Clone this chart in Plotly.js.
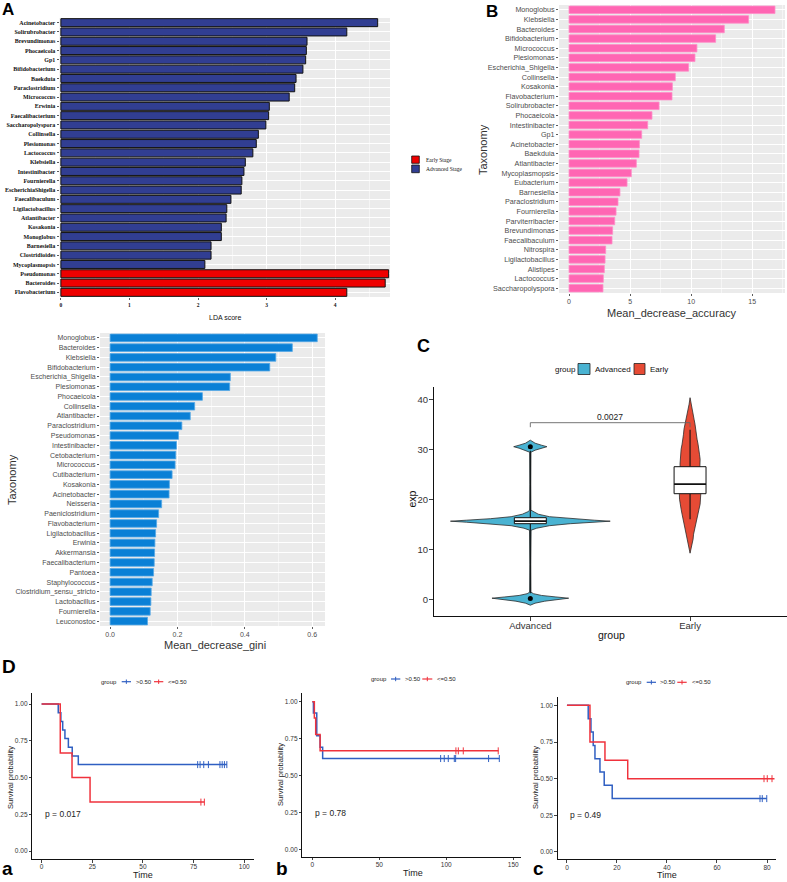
<!DOCTYPE html>
<html>
<head>
<meta charset="utf-8">
<script src="https://cdn.plot.ly/plotly-3.0.1.min.js"></script>
<style>
  html, body { margin: 0; padding: 0; background: #fff; }
  #chart { width: 787px; height: 882px; }
</style>
</head>
<body>
<div id="chart"></div>
<script>
// ---------- A: LEfSe LDA scores ----------
const ldaAdvancedTaxa = ['Acinetobacter','Solirubrobacter','Brevundimonas','Phocaeicola','Gp1','Bifidobacterium','Baekduia','Paraclostridium','Micrococcus','Erwinia','Faecalibacterium','Saccharopolyspora','Collinsella','Plesiomonas','Lactococcus','Klebsiella','Intestinibacter','Fournierella','EscherichiaShigella','Faecalibaculum','Ligilactobacillus','Atlantibacter','Kosakonia','Monoglobus','Barnesiella','Clostridioides','Mycoplasmopsis'];
const ldaAdvancedScores = [4.62,4.17,3.59,3.58,3.57,3.53,3.43,3.41,3.33,3.04,3.03,2.99,2.88,2.85,2.80,2.69,2.67,2.64,2.63,2.48,2.42,2.41,2.34,2.34,2.19,2.19,2.10];
const ldaEarlyTaxa = ['Pseudomonas','Bacteroides','Flavobacterium'];
const ldaEarlyScores = [4.78,4.73,4.17];
const ldaTicks = [0,1,2,3,4];

// ---------- B: random forest, mean decrease accuracy ----------
const accTaxa = ['Monoglobus','Klebsiella','Bacteroides','Bifidobacterium','Micrococcus','Plesiomonas','Escherichia_Shigella','Collinsella','Kosakonia','Flavobacterium','Solirubrobacter','Phocaeicola','Intestinibacter','Gp1','Acinetobacter','Baekduia','Atlantibacter','Mycoplasmopsis','Eubacterium','Barnesiella','Paraclostridium','Fournierella','Parviterribacter','Brevundimonas','Faecalibaculum','Nitrospira','Ligilactobacillus','Alistipes','Lactococcus','Saccharopolyspora'];
const accValues = [16.86,14.70,12.71,12.00,10.47,10.31,9.79,8.70,8.46,8.43,7.37,6.79,6.44,5.95,5.76,5.73,5.51,5.10,4.75,4.17,4.01,3.85,3.74,3.57,3.52,3.00,2.95,2.89,2.81,2.78];
const accTicks = [0,5,10,15];

// ---------- random forest, mean decrease gini ----------
const giniTaxa = ['Monoglobus','Bacteroides','Klebsiella','Bifidobacterium','Escherichia_Shigella','Plesiomonas','Phocaeicola','Collinsella','Atlantibacter','Paraclostridium','Pseudomonas','Intestinibacter','Cetobacterium','Micrococcus','Cutibacterium','Kosakonia','Acinetobacter','Neisseria','Paeniclostridium','Flavobacterium','Ligilactobacillus','Erwinia','Akkermansia','Faecalibacterium','Pantoea','Staphylococcus','Clostridium_sensu_stricto','Lactobacillus','Fournierella','Leuconostoc'];
const giniValues = [0.615,0.541,0.492,0.474,0.357,0.355,0.274,0.251,0.238,0.213,0.203,0.197,0.195,0.193,0.184,0.176,0.175,0.153,0.144,0.138,0.135,0.133,0.132,0.131,0.129,0.125,0.122,0.121,0.119,0.111];
const giniTicks = [0,0.2,0.4,0.6];
const giniTickText = ['0.0','0.2','0.4','0.6'];

// ---------- C: expression by group (violin outline + box summary) ----------
const groups = ['Advanced','Early'];
const advDensityY  = [-1.2,-0.8,-0.4,0.0,0.2,0.45,0.75,1.1,1.4,7.0,13.8,14.2,14.7,15.1,15.4,15.6,15.8,16.1,16.5,17.0,17.5,17.8,23.0,29.4,29.8,30.2,30.5,30.8,31.2,31.8];
const advDensityHW = [0,0.03,0.09,0.19,0.24,0.16,0.07,0.02,0.004,0.003,0.005,0.04,0.12,0.25,0.40,0.50,0.40,0.25,0.12,0.05,0.015,0.004,0.003,0.004,0.03,0.07,0.104,0.07,0.03,0];
const earlyDensityY  = [9.2,10,11,12,13,14,15,16,17,18,19,20,21,22,23,24,25,26,27,28,29,30,31,32,33,34,35,36,37,38,39,40.3];
const earlyDensityHW = [0,0.006,0.013,0.019,0.022,0.028,0.038,0.044,0.050,0.056,0.063,0.066,0.067,0.066,0.063,0.059,0.059,0.061,0.063,0.063,0.059,0.056,0.050,0.044,0.041,0.038,0.031,0.025,0.019,0.013,0.006,0];
const boxQ1 = [15.1, 21.1];
const boxMedian = [15.6, 23.0];
const boxQ3 = [16.3, 26.5];
const boxLower = [1.2, 16.0];
const boxUpper = [29.7, 33.9];
const boxHalfWidth = 0.1;
const outlierGroup = [0, 0];
const outlierY = [30.5, 0.15];
const pValueText = '0.0027';
const bracketY = 35.3;
const bracketDrop = 0.9;

// ---------- D: Kaplan-Meier curves ----------
// a
const kmA_hiT = [0,8.2,9.5,10.4,11.5,13.2,15.1,18.1,91.4];
const kmA_hiS = [1,0.941,0.882,0.824,0.765,0.706,0.647,0.588,0.588];
const kmA_hiCens = [77,78.2,80,82.3,88,89.1,90.2,91.4];
const kmA_loT = [0,9.2,15,23.9,80.3];
const kmA_loS = [1,0.667,0.5,0.333,0.333];
const kmA_loCens = [78.6,80.3];
// b
const kmB_hiT = [0,0.8,3.3,5.8,7.7,139.6];
const kmB_hiS = [1,0.923,0.769,0.692,0.615,0.615];
const kmB_hiCens = [95.8,98.5,101.5,106,107,131.6,139.6];
const kmB_loT = [0,1.5,2.5,5.8,139];
const kmB_loS = [1,0.889,0.778,0.667,0.667];
const kmB_loCens = [107.2,109,112.7,138.8];
// c
const kmC_hiT = [0,8.5,9.6,10.5,11.2,13.2,14.9,18.1,79.9];
const kmC_hiS = [1,0.909,0.818,0.727,0.636,0.545,0.455,0.364,0.364];
const kmC_hiCens = [77.2,78.1,79.9];
const kmC_loT = [0,9.2,15.2,24.3,83];
const kmC_loS = [1,0.75,0.625,0.5,0.5];
const kmC_loCens = [78.8,80.1,82];
const survTicks = [0,0.25,0.5,0.75,1];
const survTickText = ['0.00','0.25','0.50','0.75','1.00'];

// ---------- helpers ----------
const W = 787, H = 882;
const px = x => x / W;
const py = y => 1 - y / H;
const SANS = 'Liberation Sans, Arial, sans-serif';
const SERIF = 'Liberation Serif, Times New Roman, serif';

const BLUE_KM = '#2F5FC2';
const RED_KM = '#F0323C';
const ADV_FILL = '#4AB3D2';
const EARLY_FILL = '#E64B35';

function stepAt(ts, ss, t) {
  let v = ss[0];
  for (let i = 0; i < ts.length; i++) if (ts[i] <= t) v = ss[i];
  return v;
}
function violinOutline(center, ys, hws) {
  const x = [], y = [];
  for (let i = 0; i < ys.length; i++) { x.push(center + hws[i]); y.push(ys[i]); }
  for (let i = ys.length - 1; i >= 0; i--) { x.push(center - hws[i]); y.push(ys[i]); }
  return { x, y };
}

const traces = [];

// A bars
traces.push({
  type: 'bar', orientation: 'h', x: ldaAdvancedScores, y: ldaAdvancedTaxa,
  xaxis: 'x', yaxis: 'y', width: 0.86,
  marker: { color: '#313E92', line: { color: '#111', width: 1 } }, hoverinfo: 'skip'
});
traces.push({
  type: 'bar', orientation: 'h', x: ldaEarlyScores, y: ldaEarlyTaxa,
  xaxis: 'x', yaxis: 'y', width: 0.86,
  marker: { color: '#EE0000', line: { color: '#111', width: 1 } }, hoverinfo: 'skip'
});
// B bars
traces.push({
  type: 'bar', orientation: 'h', x: accValues, y: accTaxa, xaxis: 'x2', yaxis: 'y2', width: 0.78,
  marker: { color: '#FF66B3', line: { color: '#FF8DC8', width: 0.8 } }, hoverinfo: 'skip'
});
// gini bars
traces.push({
  type: 'bar', orientation: 'h', x: giniValues, y: giniTaxa, xaxis: 'x3', yaxis: 'y3', width: 0.78,
  marker: { color: '#0A80D6', line: { color: '#55A8E6', width: 0.8 } }, hoverinfo: 'skip'
});

// C violins
const advV = violinOutline(0, advDensityY, advDensityHW);
const earlyV = violinOutline(1, earlyDensityY, earlyDensityHW);
[[advV, ADV_FILL], [earlyV, EARLY_FILL]].forEach(([v, c]) => {
  traces.push({
    type: 'scatter', mode: 'lines', x: v.x, y: v.y, fill: 'toself', fillcolor: c,
    line: { color: '#2b2b2b', width: 0.8 }, xaxis: 'x4', yaxis: 'y4', hoverinfo: 'skip'
  });
});
// C boxplots: whiskers, boxes, medians
groups.forEach((g, i) => {
  traces.push({
    type: 'scatter', mode: 'lines', x: [i, i, null, i, i],
    y: [boxLower[i], boxQ1[i], null, boxQ3[i], boxUpper[i]],
    line: { color: '#111', width: 1.1 }, xaxis: 'x4', yaxis: 'y4', hoverinfo: 'skip'
  });
  traces.push({
    type: 'scatter', mode: 'lines',
    x: [i - boxHalfWidth, i + boxHalfWidth, i + boxHalfWidth, i - boxHalfWidth, i - boxHalfWidth],
    y: [boxQ1[i], boxQ1[i], boxQ3[i], boxQ3[i], boxQ1[i]],
    fill: 'toself', fillcolor: '#ffffff', line: { color: '#111', width: 1 },
    xaxis: 'x4', yaxis: 'y4', hoverinfo: 'skip'
  });
  traces.push({
    type: 'scatter', mode: 'lines', x: [i - boxHalfWidth, i + boxHalfWidth], y: [boxMedian[i], boxMedian[i]],
    line: { color: '#111', width: 1.8 }, xaxis: 'x4', yaxis: 'y4', hoverinfo: 'skip'
  });
});
traces.push({
  type: 'scatter', mode: 'markers', x: outlierGroup, y: outlierY,
  marker: { color: '#000', size: 5 }, xaxis: 'x4', yaxis: 'y4', hoverinfo: 'skip'
});
// significance bracket
traces.push({
  type: 'scatter', mode: 'lines', x: [0, 0, 1, 1],
  y: [bracketY - bracketDrop, bracketY, bracketY, bracketY - bracketDrop],
  line: { color: '#666', width: 0.9 }, xaxis: 'x4', yaxis: 'y4', hoverinfo: 'skip'
});

// D KM curves
function km(ts, ss, cens, color, xa, ya) {
  traces.push({
    type: 'scatter', mode: 'lines', x: ts, y: ss, line: { shape: 'hv', color: color, width: 1.5 },
    xaxis: xa, yaxis: ya, hoverinfo: 'skip'
  });
  traces.push({
    type: 'scatter', mode: 'markers', x: cens, y: cens.map(t => stepAt(ts, ss, t)),
    marker: { symbol: 'line-ns', size: 5, line: { color: color, width: 1 } },
    xaxis: xa, yaxis: ya, hoverinfo: 'skip'
  });
}
km(kmA_hiT, kmA_hiS, kmA_hiCens, BLUE_KM, 'x5', 'y5');
km(kmA_loT, kmA_loS, kmA_loCens, RED_KM, 'x5', 'y5');
km(kmB_hiT, kmB_hiS, kmB_hiCens, BLUE_KM, 'x6', 'y6');
km(kmB_loT, kmB_loS, kmB_loCens, RED_KM, 'x6', 'y6');
km(kmC_hiT, kmC_hiS, kmC_hiCens, BLUE_KM, 'x7', 'y7');
km(kmC_loT, kmC_loS, kmC_loCens, RED_KM, 'x7', 'y7');

// ---------- annotations & shapes ----------
const annotations = [];
const shapes = [];
function label(t, x, y, o = {}) {
  annotations.push({
    text: t, x: px(x), y: py(y), xref: 'paper', yref: 'paper', showarrow: false,
    xanchor: o.xanchor || 'center', yanchor: o.yanchor || 'middle', textangle: o.angle || 0,
    font: { family: o.family || SANS, size: o.size || 10, color: o.color || '#222', weight: o.weight || 'normal' }
  });
}
function rectPx(x0, y0, x1, y1, fill, lineColor, lw) {
  shapes.push({ type: 'rect', xref: 'paper', yref: 'paper', x0: px(x0), x1: px(x1), y0: py(y1), y1: py(y0),
    fillcolor: fill, line: { color: lineColor, width: lw } });
}
function linePx(x0, y0, x1, y1, color, lw) {
  shapes.push({ type: 'line', xref: 'paper', yref: 'paper', x0: px(x0), x1: px(x1), y0: py(y0), y1: py(y1),
    line: { color: color, width: lw } });
}

// grey ggplot panels
['x', 'x2', 'x3'].forEach((xa, i) => {
  const ya = ['y', 'y2', 'y3'][i];
  shapes.push({ type: 'rect', xref: xa + ' domain', yref: ya + ' domain', x0: 0, x1: 1, y0: 0, y1: 1,
    fillcolor: '#EBEBEB', line: { width: 0 }, layer: 'below' });
});

// panel letters
const letter = { weight: 'bold', color: '#000' };
label('A', 8, 9, Object.assign({ size: 17 }, letter));
label('B', 492, 11, Object.assign({ size: 17 }, letter));
label('C', 423, 345.5, Object.assign({ size: 18 }, letter));
label('D', 9, 666, Object.assign({ size: 19 }, letter));
label('a', 7, 881, Object.assign({ size: 19, yanchor: 'bottom' }, letter));
label('b', 282, 881, Object.assign({ size: 19, yanchor: 'bottom' }, letter));
label('c', 538, 881, Object.assign({ size: 19, yanchor: 'bottom' }, letter));

// A titles & legend
label('LDA score', 225, 318, { size: 7, color: '#111' });
rectPx(411.7, 156, 419.3, 163.3, '#EE0000', '#111', 0.8);
rectPx(411.7, 165, 419.3, 172.7, '#313E92', '#111', 0.8);
label('Early Stage', 424, 159.7, { xanchor: 'left', family: SERIF, size: 5.5, color: '#111' });
label('Advanced Stage', 424, 169, { xanchor: 'left', family: SERIF, size: 5.5, color: '#111' });

// B titles
label('Taxonomy', 483, 150, { angle: -90, size: 11, color: '#333' });
label('Mean_decrease_accuracy', 672, 313, { size: 11, color: '#333' });
// gini titles
label('Taxonomy', 12, 480, { angle: -90, size: 11, color: '#333' });
label('Mean_decrease_gini', 215, 645, { size: 11, color: '#333' });

// C titles & legend
label('exp', 411.5, 499, { angle: -90, size: 10.5, color: '#111' });
label('group', 611, 635, { size: 10.5, color: '#111' });
label('group', 553, 369, { xanchor: 'left', size: 8, color: '#111' });
rectPx(578, 363.5, 590, 374.5, ADV_FILL, '#222', 0.8);
label(groups[0], 593, 369, { xanchor: 'left', size: 8, color: '#111' });
rectPx(634, 363.5, 645, 374.5, EARLY_FILL, '#222', 0.8);
label(groups[1], 648, 369, { xanchor: 'left', size: 8, color: '#111' });
annotations.push({ text: pValueText, x: 0.5, y: bracketY + 1.1, xref: 'x4', yref: 'y4', showarrow: false,
  xanchor: 'center', yanchor: 'middle', font: { family: SANS, size: 8.5, color: '#222' } });

// D titles & legends
function kmLegend(gx, y, bx0, bx1, tx1, rx0, rx1, tx2) {
  label('group', gx, y, { size: 6, color: '#222' });
  linePx(bx0, y, bx1, y, BLUE_KM, 1.2);
  linePx((bx0 + bx1) / 2, y - 2.2, (bx0 + bx1) / 2, y + 2.2, BLUE_KM, 1);
  label('&gt;0.50', tx1, y, { xanchor: 'left', size: 6, color: '#222' });
  linePx(rx0, y, rx1, y, RED_KM, 1.2);
  linePx((rx0 + rx1) / 2, y - 2.2, (rx0 + rx1) / 2, y + 2.2, RED_KM, 1);
  label('&lt;=0.50', tx2, y, { xanchor: 'left', size: 6, color: '#222' });
}
kmLegend(109, 681.7, 121.7, 131, 133.5, 154, 163.3, 165.5);
kmLegend(378.5, 679, 391, 400.3, 403, 422.3, 432.3, 434.8);
kmLegend(634, 682.3, 646.7, 656, 658, 677.3, 686.7, 689.5);

label('Survival probability', 10, 778, { angle: -90, size: 7.5, color: '#222' });
label('Time', 143, 875, { size: 9, color: '#222' });
label('p = 0.017', 42.5, 814, { xanchor: 'left', size: 8.5, color: '#222' });
label('Survival probability', 280, 775, { angle: -90, size: 7.5, color: '#222' });
label('Time', 413, 873, { size: 9, color: '#222' });
label('p = 0.78', 313, 813, { xanchor: 'left', size: 8.5, color: '#222' });
label('Survival probability', 535, 778, { angle: -90, size: 7.5, color: '#222' });
label('Time', 667, 875, { size: 9, color: '#222' });
label('p = 0.49', 568, 815, { xanchor: 'left', size: 8.5, color: '#222' });

// ---------- axes ----------
const ggGrid = { showgrid: true, gridcolor: '#ffffff', gridwidth: 1, zeroline: false, showline: false };
const catAxis = (domain, anchor, cats, font) => Object.assign({}, ggGrid, {
  domain, anchor, type: 'category', categoryorder: 'array', categoryarray: cats,
  tickmode: 'linear', tick0: 0, dtick: 1,
  autorange: 'reversed', ticks: 'outside', ticklen: 2, tickcolor: '#333', tickwidth: 0.8, tickfont: font
});
const classic = (domain, anchor, range, tickvals, ticktext, fontSize, ticklen, standoff) => ({
  domain, anchor, range, tickvals, ticktext, showgrid: false, zeroline: false,
  showline: true, linecolor: '#111', linewidth: 1, ticks: 'outside', ticklen: ticklen, tickcolor: '#111', tickwidth: 0.8,
  ticklabelstandoff: standoff || 0,
  tickfont: { family: SANS, size: fontSize, color: '#333' }
});

const layout = {
  width: W, height: H, margin: { l: 0, r: 0, t: 0, b: 0 },
  paper_bgcolor: '#ffffff', plot_bgcolor: 'rgba(0,0,0,0)',
  showlegend: false, hovermode: false, barmode: 'overlay',
  font: { family: SANS },

  xaxis: Object.assign({}, ggGrid, {
    domain: [px(59.5), px(390)], anchor: 'y', range: [-0.02, 4.8], tickvals: ldaTicks,
    minor: { tickvals: [0.5, 1.5, 2.5, 3.5, 4.5], showgrid: true, gridcolor: '#ffffff', gridwidth: 0.5 },
    ticks: 'outside', ticklen: 2, tickcolor: '#333', tickwidth: 0.8,
    tickfont: { family: SERIF, size: 5.5, color: '#111', weight: 'bold' }
  }),
  yaxis: catAxis([py(297), py(18)], 'x', ldaAdvancedTaxa.concat(ldaEarlyTaxa),
    { family: SERIF, size: 6, color: '#111', weight: 'bold' }),

  xaxis2: Object.assign({}, ggGrid, {
    domain: [px(559), px(785)], anchor: 'y2', range: [-0.82, 17.68], tickvals: accTicks,
    minor: { tickvals: [2.5, 7.5, 12.5, 17.5], showgrid: true, gridcolor: '#ffffff', gridwidth: 0.5 },
    ticks: 'outside', ticklen: 2, tickcolor: '#333', tickwidth: 0.8,
    tickfont: { family: SANS, size: 7, color: '#4D4D4D' }
  }),
  yaxis2: catAxis([py(293), py(5)], 'x2', accTaxa, { family: SANS, size: 7.2, color: '#4D4D4D' }),

  xaxis3: Object.assign({}, ggGrid, {
    domain: [px(100), px(325)], anchor: 'y3', range: [-0.03, 0.638], tickvals: giniTicks, ticktext: giniTickText,
    minor: { tickvals: [0.1, 0.3, 0.5], showgrid: true, gridcolor: '#ffffff', gridwidth: 0.5 },
    ticks: 'outside', ticklen: 2, tickcolor: '#333', tickwidth: 0.8,
    tickfont: { family: SANS, size: 7, color: '#4D4D4D' }
  }),
  yaxis3: catAxis([py(626), py(333)], 'x3', giniTaxa, { family: SANS, size: 7, color: '#4D4D4D' }),

  xaxis4: classic([px(434), px(786.7)], 'y4', [-0.603, 1.605], [0, 1], groups, 9.5, 4, -3),
  yaxis4: classic([py(615.7), py(386.7)], 'x4', [-3.3, 42.5], [0, 10, 20, 30, 40], ['0', '10', '20', '30', '40'], 9.5, 4, -1),

  xaxis5: classic([px(32.3), px(254)], 'y5', [-4.6, 104.8], [0, 25, 50, 75, 100], ['0', '25', '50', '75', '100'], 6.5, 2.5, -1),
  yaxis5: classic([py(859), py(693)], 'x5', [-0.054, 1.075], survTicks, survTickText, 6.5, 2.5),
  xaxis6: classic([px(302.3), px(521)], 'y6', [-7.5, 155.8], [0, 50, 100, 150], ['0', '50', '100', '150'], 6.5, 2.5, -1),
  yaxis6: classic([py(856.7), py(693.3)], 'x6', [-0.05, 1.057], survTicks, survTickText, 6.5, 2.5),
  xaxis7: classic([px(557.7), px(776)], 'y7', [-3.7, 83.6], [0, 20, 40, 60, 80], ['0', '20', '40', '60', '80'], 6.5, 2.5, -1),
  yaxis7: classic([py(859.3), py(697.3)], 'x7', [-0.05, 1.055], survTicks, survTickText, 6.5, 2.5),

  annotations, shapes
};

Plotly.newPlot('chart', traces, layout, { staticPlot: true, displayModeBar: false });
</script>
</body>
</html>
